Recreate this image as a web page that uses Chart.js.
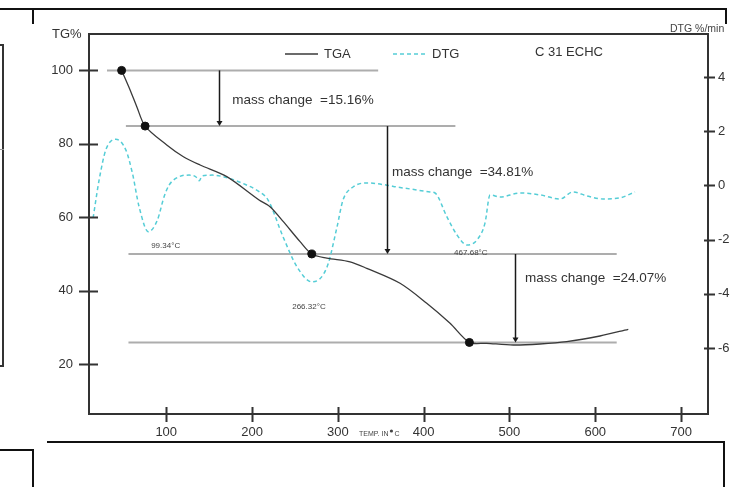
<!DOCTYPE html>
<html>
<head>
<meta charset="utf-8">
<script src="https://cdn.jsdelivr.net/npm/chart.js@4.4.1/dist/chart.umd.min.js"></script>
<style>
  html, body { margin: 0; padding: 0; background: #fff; }
  #wrap { position: relative; width: 743px; height: 487px; overflow: hidden; }
  #wrap canvas { position: absolute; left: 0; top: 0; }
  .rule { position: absolute; background: #111; }
</style>
</head>
<body>
<div id="wrap">
  <canvas id="tga" width="743" height="487"></canvas>
  <!-- page frame lines around the figure -->
  <div class="rule" style="left:0;top:8px;width:727px;height:2px"></div>
  <div class="rule" style="left:32px;top:8px;width:2px;height:16px"></div>
  <div class="rule" style="left:725px;top:8px;width:2px;height:16px"></div>
  <div class="rule" style="left:2px;top:44px;width:2px;height:323px;background:#333"></div>
  <div class="rule" style="left:0;top:44px;width:4px;height:2px;background:#333"></div>
  <div class="rule" style="left:0;top:365px;width:4px;height:2px;background:#333"></div>
  <div class="rule" style="left:0;top:149px;width:4px;height:1px;background:#999"></div>
  <div class="rule" style="left:47px;top:441px;width:678px;height:2px"></div>
  <div class="rule" style="left:723px;top:441px;width:2px;height:46px"></div>
  <div class="rule" style="left:0;top:449px;width:34px;height:2px"></div>
  <div class="rule" style="left:32px;top:449px;width:2px;height:38px"></div>
</div>
<script>
// axis ticks
var tempTicks = [100, 200, 300, 400, 500, 600, 700];
var massTicks = [20, 40, 60, 80, 100];
var rateTicks = [-6, -4, -2, 0, 2, 4];

// TGA curve, temperature (°C) vs residual mass (%)
var tgaTemp = [48, 57.9, 65.7, 75.4, 100.6, 120.0, 139.5, 170.6, 208.2, 221.0, 236.5, 256.0, 269.6,
  287.1, 314.2, 333.7, 372.5, 403.6, 430.8, 453.3, 473.5, 504.5, 535.6, 566.7, 605.5, 638.5];
var tgaMass = [100, 94.67, 90.12, 84.84, 79.70, 76.51, 74.25, 71.07, 64.73, 62.90, 58.82, 53.38, 50.03,
  48.9, 47.9, 46.13, 42.05, 36.61, 31.16, 25.96, 25.72, 25.26, 25.53, 26.16, 27.71, 29.53];

// DTG curve, temperature (°C) vs rate (%/min)
var dtgTemp = [14.8, 21.8, 29.6, 41.2, 52.9, 60.6, 68.4, 79.2, 89.7, 97.5, 103.3, 115.0, 126.6, 134.4, 138.3,
  142.1, 153.8, 173.3, 188.7, 208.2, 218.7, 236.2, 252.5, 269.9, 287.4, 299.0, 306.0, 317.7, 334.0, 357.3,
  369.0, 384.2, 407.5, 413.3, 427.3, 438.9, 450.6, 462.2, 471.5, 477.4, 489.0, 512.3, 535.6, 558.9, 574.1,
  590.4, 609.0, 628.9, 646.3];
var dtgRate = [-1.20, 0.20, 1.31, 1.70, 1.31, 0.45, -0.79, -1.71, -1.28, -0.42, 0.01, 0.32, 0.38, 0.32, 0.17,
  0.35, 0.38, 0.26, 0.08, -0.23, -0.54, -1.90, -3.01, -3.56, -3.01, -1.54, -0.54, -0.06, 0.09, 0.01,
  -0.06, -0.13, -0.24, -0.28, -1.17, -1.83, -2.20, -2.01, -1.39, -0.35, -0.43, -0.28, -0.35, -0.50, -0.24,
  -0.39, -0.50, -0.46, -0.24];

// decomposition stages: start points and mass levels
var stageTemp = [48, 75.4, 269.6, 453.3];
var stageMass = [100, 84.84, 50.03, 25.96];
var levelFrom = [31, 53, 56, 56];
var levelTo = [347, 437, 625, 625];

// mass change between consecutive levels
var massChange = [15.16, 34.81, 24.07];
var arrowTemp = [162, 357, 506.5];
var massNoteTemp = [177, 363, 518];
var massNoteMass = [91.9, 72.4, 43.5];

// DTG peak temperatures
var peakTemp = ['99.34', '266.32', '467.68'];
var peakNoteTemp = [99.34, 266.32, 455];
var peakNoteRate = [-2.24, -4.49, -2.49];

var INK = '#333';
var TGA_COLOR = '#3a3a3a';
var DTG_COLOR = '#55cdd6';
var LEVEL_COLOR = '#adadad';
var FONT = "'Liberation Sans', Arial, sans-serif";

Chart.defaults.font.family = FONT;
Chart.defaults.color = INK;

function pts(xs, ys) {
  return xs.map(function(x, i) { return { x: x, y: ys[i] }; });
}

var levelSets = stageMass.map(function(m, i) {
  return {
    label: 'level ' + (i + 1),
    data: [{ x: levelFrom[i], y: m }, { x: levelTo[i], y: m }],
    yAxisID: 'y',
    borderColor: LEVEL_COLOR,
    borderWidth: 2,
    pointRadius: 0,
    tension: 0
  };
});

// frame box and ticks that cross the axis lines
var framePlugin = {
  id: 'frame',
  afterDraw: function(chart) {
    var ctx = chart.ctx, a = chart.chartArea, s = chart.scales;
    ctx.save();
    ctx.strokeStyle = INK;
    ctx.lineWidth = 2;
    ctx.strokeRect(a.left, a.top, a.right - a.left, a.bottom - a.top);
    ctx.beginPath();
    massTicks.forEach(function(v) {
      var p = Math.round(s.y.getPixelForValue(v)) + 0.5;
      ctx.moveTo(a.left - 10, p); ctx.lineTo(a.left + 9, p);
    });
    rateTicks.forEach(function(v) {
      var p = Math.round(s.y2.getPixelForValue(v)) + 0.5;
      ctx.moveTo(a.right - 4, p); ctx.lineTo(a.right + 7, p);
    });
    tempTicks.forEach(function(v) {
      var p = Math.round(s.x.getPixelForValue(v)) + 0.5;
      ctx.moveTo(p, a.bottom - 7); ctx.lineTo(p, a.bottom + 8);
    });
    ctx.stroke();
    ctx.restore();
  }
};

// arrows, mass change notes, peak labels, legend and axis titles
var notesPlugin = {
  id: 'notes',
  afterDatasetsDraw: function(chart) {
    var ctx = chart.ctx, a = chart.chartArea, s = chart.scales;
    ctx.save();

    ctx.strokeStyle = '#1a1a1a';
    ctx.fillStyle = '#1a1a1a';
    ctx.lineWidth = 1.5;
    arrowTemp.forEach(function(t, i) {
      var x = Math.round(s.x.getPixelForValue(t)) + 0.5;
      var y1 = s.y.getPixelForValue(stageMass[i]);
      var y2 = s.y.getPixelForValue(stageMass[i + 1]);
      ctx.beginPath();
      ctx.moveTo(x, y1); ctx.lineTo(x, y2 - 4);
      ctx.stroke();
      ctx.beginPath();
      ctx.moveTo(x - 3, y2 - 5); ctx.lineTo(x + 3, y2 - 5); ctx.lineTo(x, y2);
      ctx.closePath();
      ctx.fill();
    });

    ctx.fillStyle = INK;
    ctx.font = '13.5px ' + FONT;
    ctx.textBaseline = 'middle';
    ctx.textAlign = 'left';
    massChange.forEach(function(m, i) {
      ctx.fillText('mass change  =' + m.toFixed(2) + '%',
        s.x.getPixelForValue(massNoteTemp[i]), s.y.getPixelForValue(massNoteMass[i]));
    });

    ctx.fillStyle = '#444';
    ctx.font = '8px ' + FONT;
    ctx.textAlign = 'center';
    peakTemp.forEach(function(p, i) {
      ctx.fillText(p + '°C', s.x.getPixelForValue(peakNoteTemp[i]), s.y2.getPixelForValue(peakNoteRate[i]));
    });

    // legend inside the plot
    var ly = a.top + 20;
    ctx.lineWidth = 1.3;
    ctx.strokeStyle = TGA_COLOR;
    ctx.beginPath(); ctx.moveTo(285, ly); ctx.lineTo(318, ly); ctx.stroke();
    ctx.lineWidth = 1.5;
    ctx.strokeStyle = DTG_COLOR;
    ctx.setLineDash([4, 3]);
    ctx.beginPath(); ctx.moveTo(393, ly); ctx.lineTo(427, ly); ctx.stroke();
    ctx.setLineDash([]);
    ctx.fillStyle = INK;
    ctx.font = '13px ' + FONT;
    ctx.textAlign = 'left';
    ctx.fillText('TGA', 324, ly);
    ctx.fillText('DTG', 432, ly);
    ctx.fillText('C 31 ECHC', 535, ly - 2);

    // axis titles
    ctx.fillText('TG%', 52, a.top);
    ctx.font = '10.5px ' + FONT;
    ctx.fillStyle = '#444';
    ctx.fillText('DTG %/min', 670, a.top - 5);
    var tx = 359, ty = a.bottom + 20;
    ctx.font = '7px ' + FONT;
    ctx.fillText('TEMP. IN', tx, ty);
    tx += ctx.measureText('TEMP. IN').width + 1.5;
    ctx.beginPath();
    ctx.arc(tx + 1.5, ty - 3, 1.6, 0, Math.PI * 2);
    ctx.fill();
    ctx.fillText('C', tx + 4.5, ty);
    ctx.restore();
  }
};

new Chart(document.getElementById('tga'), {
  type: 'line',
  data: {
    datasets: [
      {
        label: 'stages',
        data: pts(stageTemp, stageMass),
        yAxisID: 'y',
        showLine: false,
        pointRadius: 4,
        pointBackgroundColor: '#111',
        pointBorderColor: '#111'
      },
      {
        label: 'TGA',
        data: pts(tgaTemp, tgaMass),
        yAxisID: 'y',
        borderColor: TGA_COLOR,
        borderWidth: 1.3,
        pointRadius: 0,
        tension: 0.3
      },
      {
        label: 'DTG',
        data: pts(dtgTemp, dtgRate),
        yAxisID: 'y2',
        borderColor: DTG_COLOR,
        borderWidth: 1.5,
        borderDash: [4, 3],
        pointRadius: 0,
        cubicInterpolationMode: 'monotone'
      }
    ].concat(levelSets)
  },
  options: {
    responsive: false,
    animation: false,
    layout: { padding: { left: 29, right: 0, top: 34, bottom: 33 } },
    plugins: { legend: { display: false }, tooltip: { enabled: false } },
    scales: {
      x: {
        type: 'linear',
        min: 10,
        max: 731.4,
        grid: { display: false, drawTicks: false },
        border: { display: false },
        afterBuildTicks: function(s) { s.ticks = tempTicks.map(function(v) { return { value: v }; }); },
        afterFit: function(s) { s.height = 40; },
        ticks: { padding: 11, autoSkip: false, maxRotation: 0, font: { size: 13 }, color: INK }
      },
      y: {
        type: 'linear',
        position: 'left',
        min: 6.48,
        max: 109.9,
        grid: { display: false, drawTicks: false },
        border: { display: false },
        afterBuildTicks: function(s) { s.ticks = massTicks.map(function(v) { return { value: v }; }); },
        afterFit: function(s) { s.width = 60; },
        ticks: { padding: 16, font: { size: 13 }, color: INK }
      },
      y2: {
        type: 'linear',
        position: 'right',
        min: -8.435,
        max: 5.587,
        grid: { display: false, drawTicks: false },
        border: { display: false },
        afterBuildTicks: function(s) { s.ticks = rateTicks.map(function(v) { return { value: v }; }); },
        afterFit: function(s) { s.width = 35; },
        ticks: { padding: 10, font: { size: 13 }, color: INK }
      }
    }
  },
  plugins: [framePlugin, notesPlugin]
});
</script>
</body>
</html>
